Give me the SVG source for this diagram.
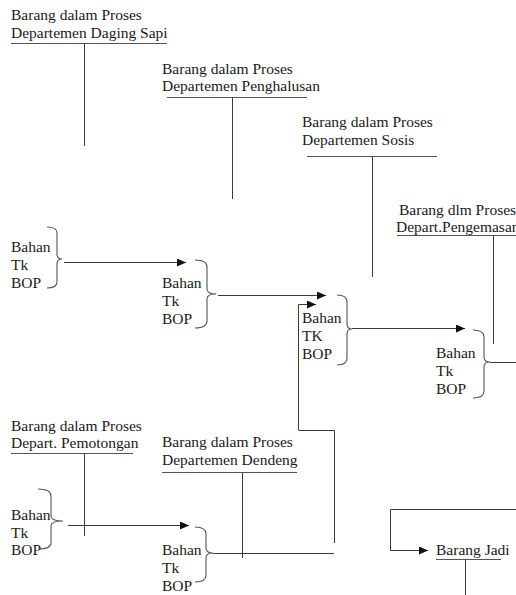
<svg xmlns="http://www.w3.org/2000/svg" width="516" height="595" viewBox="0 0 516 595">
<style>
text{font-family:"Liberation Serif","Times New Roman",serif;font-size:15.5px;fill:#1a1a1a}
.ln{stroke:#3a3a3a;stroke-width:1;fill:none}
.ul{stroke:#555;stroke-width:1.2;fill:none}
.br{stroke:#555;stroke-width:1.1;fill:none}
</style>
<defs>
<marker id="ah" markerWidth="10" markerHeight="8" refX="9" refY="4" orient="auto" markerUnits="userSpaceOnUse">
<path d="M0,0 L9,4 L0,8 Z" fill="#111"/>
</marker>
</defs>
<rect width="516" height="595" fill="#fff"/>

<g id="daging-sapi">
<text x="11" y="20">Barang dalam Proses</text>
<text x="11" y="38">Departemen Daging Sapi</text>
<path class="ul" d="M11,43.5H167"/>
<path class="ln" d="M84.5,43.5V146"/>
</g>
<g id="penghalusan">
<text x="162" y="74">Barang dalam Proses</text>
<text x="162" y="91">Departemen Penghalusan</text>
<path class="ul" d="M167,97.5H307"/>
<path class="ln" d="M232.5,97.5V199"/>
</g>
<g id="sosis">
<text x="302" y="127">Barang dalam Proses</text>
<text x="302" y="145">Departemen Sosis</text>
<path class="ul" d="M307,156.5H437"/>
<path class="ln" d="M372.5,156.5V277"/>
</g>
<g id="pengemasan">
<text x="399" y="215">Barang dlm Proses</text>
<text x="396" y="232">Depart.Pengemasan</text>
<path class="ul" d="M397,235.5H516"/>
<path class="ln" d="M493.5,235.5V344"/>
</g>
<g id="pemotongan">
<text x="11" y="431">Barang dalam Proses</text>
<text x="11" y="448">Depart. Pemotongan</text>
<path class="ul" d="M11,453.5H133"/>
<path class="ln" d="M84.5,453.5V536"/>
</g>
<g id="dendeng">
<text x="162" y="447">Barang dalam Proses</text>
<text x="162" y="465">Departemen Dendeng</text>
<path class="ul" d="M162,472.5H297"/>
<path class="ln" d="M242.5,472.5V558"/>
</g>
<g id="barang-jadi">
<text x="436" y="555">Barang Jadi</text>
<path class="ul" d="M436,559.5H501"/>
<path class="ln" d="M465.5,559.5V595"/>
</g>

<g id="input-1">
<text x="11" y="252">Bahan</text>
<text x="11" y="270">Tk</text>
<text x="11" y="288">BOP</text>
<path class="br" d="M47,227 Q57,227 57,233 V254 Q57,259 62,259 Q57,259 57,264 V282 Q57,288 47,288"/>
</g>
<g id="input-2">
<text x="162" y="288">Bahan</text>
<text x="162" y="306">Tk</text>
<text x="162" y="324">BOP</text>
<path class="br" d="M195,260 Q207,260 207,267 V289 Q207,294 216,294 Q207,294 207,299 V321 Q207,328 195,328"/>
</g>
<g id="input-3">
<text x="302" y="323">Bahan</text>
<text x="302" y="341">TK</text>
<text x="302" y="359">BOP</text>
<path class="br" d="M337,295 Q347,295 347,302 V324 Q347,329 352,329 Q347,329 347,334 V358 Q347,365 337,365"/>
</g>
<g id="input-4">
<text x="436" y="358">Bahan</text>
<text x="436" y="376">Tk</text>
<text x="436" y="394">BOP</text>
<path class="br" d="M473,330 Q484,330 484,337 V357 Q484,362 490,362 Q484,362 484,367 V391 Q484,398 473,398"/>
</g>
<g id="input-5">
<text x="11" y="520">Bahan</text>
<text x="11" y="538">Tk</text>
<text x="11" y="555">BOP</text>
<path class="br" d="M38,489 Q51,489 51,496 V516 Q51,521 63,521 Q51,521 51,526 V543 Q51,549 38,549"/>
</g>
<g id="input-6">
<text x="162" y="555">Bahan</text>
<text x="162" y="573">Tk</text>
<text x="162" y="591">BOP</text>
<path class="br" d="M195,527 Q206,527 206,534 V548 Q206,553 213,553 Q206,553 206,558 V575 Q206,582 195,582"/>
</g>

<g id="connectors">
<path class="ln" d="M64,262.5H186" marker-end="url(#ah)"/>
<path class="ln" d="M218,295.5H326" marker-end="url(#ah)"/>
<path class="ln" d="M298.5,430V304.5H316" marker-end="url(#ah)"/>
<path class="ln" d="M352,328.5H465" marker-end="url(#ah)"/>
<path class="ln" d="M490,362.5H516"/>
<path class="ln" d="M68,525.5H189" marker-end="url(#ah)"/>
<path class="ln" d="M298.5,430.5H334.5V543"/>
<path class="ln" d="M213,553.5H334"/>
<path class="ln" d="M516,509.5H390.5V550.5H428" marker-end="url(#ah)"/>
</g>
</svg>
